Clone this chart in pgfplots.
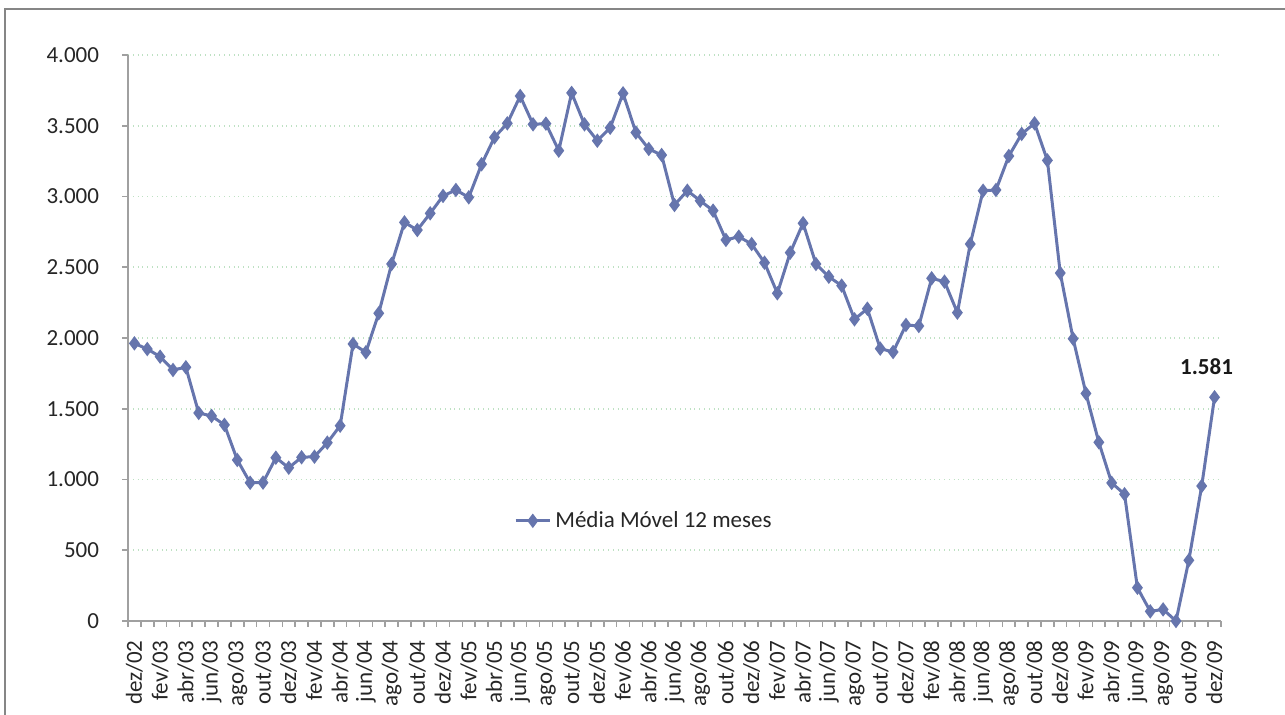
\documentclass[border=0pt]{standalone}
\usepackage{pgfplots}
\pgfplotsset{compat=1.18}
\usepackage{pgfplotstable}
\usepackage{fontspec}
\setmainfont{Carlito}
\definecolor{serie}{RGB}{102,117,173}
\definecolor{gridc}{RGB}{190,225,195}
\definecolor{axisc}{RGB}{160,160,160}
\definecolor{borderc}{RGB}{134,134,134}

\pgfplotstableread{
x y
0 1962
1 1922
2 1868
3 1774
4 1793
5 1470
6 1449
7 1386
8 1138
9 977
10 978
11 1154
12 1083
13 1157
14 1161
15 1260
16 1380
17 1958
18 1899
19 2175
20 2523
21 2817
22 2763
23 2881
24 3004
25 3046
26 2994
27 3228
28 3418
29 3517
30 3710
31 3510
32 3515
33 3324
34 3732
35 3510
36 3394
37 3486
38 3729
39 3452
40 3336
41 3293
42 2940
43 3041
44 2970
45 2900
46 2693
47 2716
48 2664
49 2532
50 2316
51 2603
52 2811
53 2523
54 2433
55 2370
56 2132
57 2207
58 1925
59 1901
60 2092
61 2085
62 2422
63 2398
64 2179
65 2664
66 3041
67 3046
68 3286
69 3442
70 3517
71 3255
72 2459
73 1995
74 1608
75 1263
76 976
77 896
78 235
79 68
80 82
81 0
82 429
83 954
84 1581
}\datatable

\begin{document}
\begin{tikzpicture}
\useasboundingbox (-64pt,-47pt) rectangle (578.5pt,310.5pt);
\draw[borderc, line width=0.8pt] (-61.5pt,-60pt) -- (-61.5pt,306pt) -- (620pt,306pt);
\begin{axis}[
  scale only axis,
  width=546.5pt, height=283pt,
  xmin=-0.5, xmax=84.5,
  ymin=0, ymax=4000,
  clip=false,
  axis x line*=bottom, axis y line*=left,
  axis line style={draw=axisc, line width=1pt},
  tick style={draw=axisc, line width=0.8pt},
  tick align=outside,
  major tick length=2.8pt,
  xtick={-0.5,0.5,...,84.5},
  xticklabels={},
  extra x ticks={0,2,...,84},
  extra x tick labels={dez/02,fev/03,abr/03,jun/03,ago/03,out/03,dez/03,fev/04,abr/04,jun/04,ago/04,out/04,dez/04,fev/05,abr/05,jun/05,ago/05,out/05,dez/05,fev/06,abr/06,jun/06,ago/06,out/06,dez/06,fev/07,abr/07,jun/07,ago/07,out/07,dez/07,fev/08,abr/08,jun/08,ago/08,out/08,dez/08,fev/09,abr/09,jun/09,ago/09,out/09,dez/09},
  extra x tick style={major tick length=0pt},
  xticklabel style={rotate=90, anchor=east, inner sep=0pt, xshift=-9.5pt},
  ytick={0,500,...,4000},
  yticklabel style={inner sep=0pt, xshift=-11.5pt},
  scaled y ticks=false,
  /pgf/number format/.cd, 1000 sep={.}, assume math mode=true,
  /pgfplots/.cd,
  ymajorgrids,
  grid style={gridc, dotted, line width=0.8pt},
  every tick label/.append style={font=\fontsize{11.5}{13}\selectfont, text=black!85},
  legend style={at={(axis description cs:0.353,0.177)}, anchor=west, draw=none, fill=none,
    font=\fontsize{11.5}{13}\selectfont, text=black!85, inner sep=0pt},
  legend image code/.code={
    \draw[#1, mark=none] (0cm,0cm) -- (0.6cm,0cm);
    \draw[#1, only marks] plot coordinates {(0.3cm,0cm)};
  },
]
\addplot[serie, line width=1.5pt, mark=diamond*, mark size=2.4pt, mark options={solid, fill=serie}]
  table[x=x, y=y] {\datatable};
\addlegendentry{Média Móvel 12 meses}
\addplot[draw=none, forget plot, nodes near coords, point meta=explicit symbolic,
  every node near coord/.append style={font=\bfseries\fontsize{11.5}{13}\selectfont, text=black!90, anchor=south, yshift=8pt, xshift=-4pt}]
  coordinates {(84,1581) [1.581]};
\end{axis}
\end{tikzpicture}
\end{document}
